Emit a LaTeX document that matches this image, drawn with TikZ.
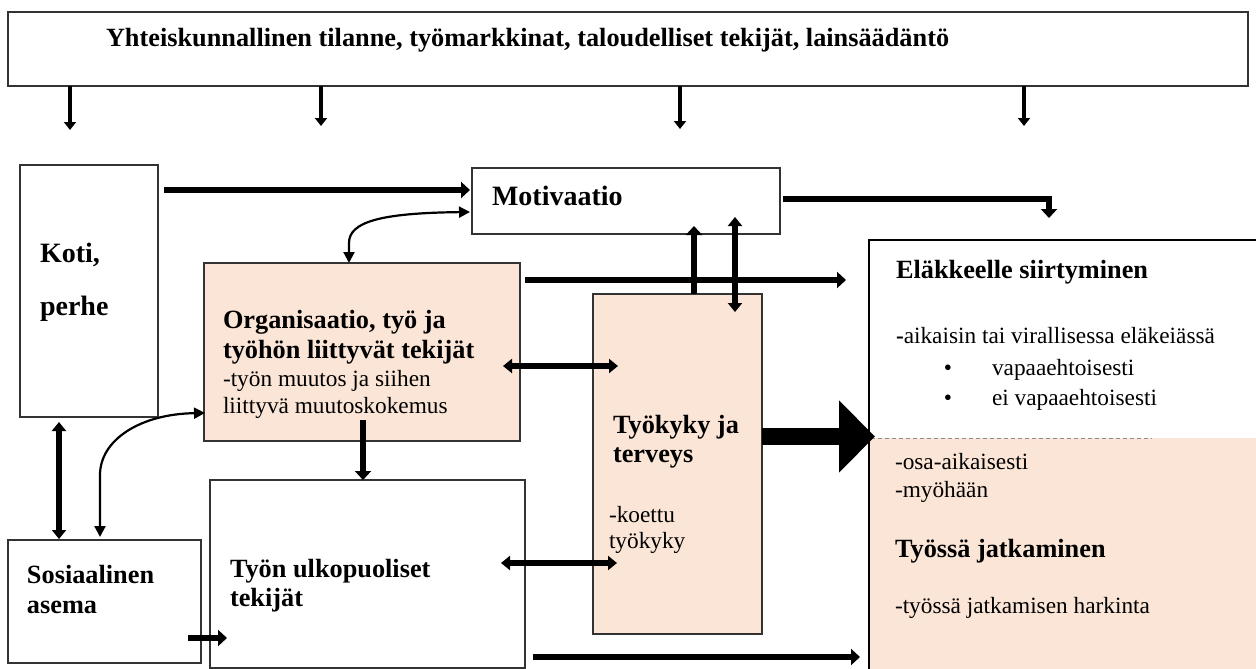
\documentclass[tikz,border=0pt]{standalone}
\usepackage{fontspec}
\setmainfont{Liberation Serif}
\usetikzlibrary{arrows.meta}
\definecolor{peach}{HTML}{FBE5D6}
\begin{document}
\begin{tikzpicture}[x=1pt,y=-1pt,
  box/.style={draw=black!80, line width=1.3pt, anchor=north west, inner sep=0pt, outer sep=0pt},
  txt/.style={anchor=base west, inner sep=0pt, outer sep=0pt},
  hb/.style={txt, font=\fontsize{26.3}{30}\selectfont\bfseries},
  hbig/.style={txt, font=\fontsize{28}{32}\selectfont\bfseries},
  rg/.style={txt, font=\fontsize{23.3}{28}\selectfont},
  thk/.style={line width=6.5pt, line join=miter, arrows={-Triangle[length=9pt,width=16pt]}},
  thkd/.style={line width=5.5pt, arrows={Triangle[length=9pt,width=14pt]-Triangle[length=9pt,width=14pt]}},
  dn/.style={line width=4.5pt, arrows={-Triangle[length=8pt,width=12pt]}},
  crv/.style={line width=2.2pt, arrows={Triangle[length=11pt,width=11pt]-Triangle[length=11pt,width=11pt]}}
]
\useasboundingbox (0,0) rectangle (1256,669);
\clip (0,0) rectangle (1256,669);

% ---------- boxes ----------
\node[box, minimum width=1240pt, minimum height=74pt] (top) at (8,12) {};
\node[box, minimum width=138pt, minimum height=252pt] (koti) at (20,165) {};
\node[box, minimum width=308pt, minimum height=66pt] (mot) at (472,168) {};
\node[box, fill=peach, minimum width=316pt, minimum height=178pt] (org) at (204,263) {};
\node[box, fill=peach, minimum width=169pt, minimum height=340pt] (tk) at (593,294) {};
\node[box, minimum width=315pt, minimum height=188pt] (tu) at (210,480) {};
\node[box, minimum width=193pt, minimum height=123pt] (sos) at (8,540) {};
\fill[peach] (870,438) rectangle (1262,675);
\node[box, draw=black, line width=2.8pt, minimum width=400pt, minimum height=440pt] (el) at (869,240) {};
\coordinate (dl1) at (871,438);
\coordinate (dl2) at (1152,438);
\draw[black!45, dashed, line width=0.8pt, dash pattern=on 4pt off 3pt] (dl1) -- (dl2);

% ---------- texts ----------
\node[hb] (ttop) at (106,47) {Yhteiskunnallinen tilanne, työmarkkinat, taloudelliset tekijät, lainsäädäntö};
\node[hbig] (tkoti1) at (40,262) {Koti,};
\node[hbig] (tkoti2) at (40,315) {perhe};
\node[hbig] (tmot) at (492,205) {Motivaatio};
\node[hb] (torg1) at (223,328) {Organisaatio, työ ja};
\node[hb] (torg2) at (223,358) {työhön liittyvät tekijät};
\node[rg] (torg3) at (223,386) {-työn muutos ja siihen};
\node[rg] (torg4) at (223,413) {liittyvä muutoskokemus};
\node[hb] (ttk1) at (613,433) {Työkyky ja};
\node[hb] (ttk2) at (613,462) {terveys};
\node[rg] (ttk3) at (609,522) {-koettu};
\node[rg] (ttk4) at (609,548) {työkyky};
\node[hb] (ttu1) at (230,577) {Työn ulkopuoliset};
\node[hb] (ttu2) at (230,606) {tekijät};
\node[hb] (tsos1) at (27,583) {Sosiaalinen};
\node[hb] (tsos2) at (27,613) {asema};
\node[hb] (tel1) at (896,278) {Eläkkeelle siirtyminen};
\node[rg] (tel2) at (896,343) {\textbf{-}aikaisin tai virallisessa eläkeiässä};
\node[rg, anchor=base] (b1) at (948,375) {•};
\node[rg] (tel3) at (992,375) {vapaaehtoisesti};
\node[rg, anchor=base] (b2) at (948,405) {•};
\node[rg] (tel4) at (992,405) {ei vapaaehtoisesti};
\node[rg] (tel5) at (895,469) {-osa-aikaisesti};
\node[rg] (tel6) at (895,497) {-myöhään};
\node[hb] (tel7) at (895,557) {Työssä jatkaminen};
\node[rg] (tel8) at (895,613) {-työssä jatkamisen harkinta};

% ---------- coordinates for connector ends ----------
\coordinate (d1) at (70,130);
\coordinate (d2) at (321,126);
\coordinate (d3) at (680,129);
\coordinate (d4) at (1024,126);
\coordinate (k1) at (164,190);
\coordinate (k2) at (470,190);
\coordinate (o1) at (525,280);
\coordinate (o2) at (846,280);
\coordinate (m1) at (783,199);
\coordinate (m2) at (1049,199);
\coordinate (m3) at (1049,218);
\coordinate (v1b) at (694,294);
\coordinate (v1t) at (694,226);
\coordinate (v2b) at (735,312);
\coordinate (v2t) at (735,217);
\coordinate (h1l) at (503,366);
\coordinate (h1r) at (618,366);
\coordinate (h2l) at (501,563);
\coordinate (h2r) at (617,563);
\coordinate (od1) at (363,420);
\coordinate (od2) at (363,480);
\coordinate (ks1) at (59,422);
\coordinate (ks2) at (59,539);
\coordinate (st1) at (188,638);
\coordinate (st2) at (227,638);
\coordinate (bt1) at (533,657);
\coordinate (bt2) at (860,657);
\coordinate (ba) at (875,436.5);
\coordinate (c1a) at (349,263);
\coordinate (c1b) at (349,243);
\coordinate (c1c) at (470,212);
\coordinate (c2a) at (100,537);
\coordinate (c2b) at (100,475);
\coordinate (c2c) at (205,413);

% ---------- connectors ----------
\draw[dn] (top.south -| d1) -- (d1);
\draw[dn] (top.south -| d2) -- (d2);
\draw[dn] (top.south -| d3) -- (d3);
\draw[dn] (top.south -| d4) -- (d4);
\draw[thk] (k1) -- (k2);
\draw[thk] (o1) -- (o2);
\draw[thk] (m1) -- (m2) -- (m3);
\draw[thk] (v1b) -- (v1t);
\draw[thkd, line width=6pt] (v2b) -- (v2t);
\draw[thkd] (h1l) -- (h1r);
\draw[thkd] (h2l) -- (h2r);
\draw[thk] (od1) -- (od2);
\draw[thkd, line width=6pt] (ks1) -- (ks2);
\draw[thk, line width=6pt] (st1) -- (st2);
\draw[thk, line width=6pt] (bt1) -- (bt2);
\draw[line width=17pt, arrows={-Triangle[length=36pt,width=70pt]}] (tk.east |- ba) -- (ba);
\draw[crv] (c1a) -- (c1b) .. controls (349,222) and (380,213) .. (c1c);
\draw[crv] (c2a) -- (c2b) .. controls (100,440) and (140,414) .. (c2c);
\end{tikzpicture}
\end{document}
